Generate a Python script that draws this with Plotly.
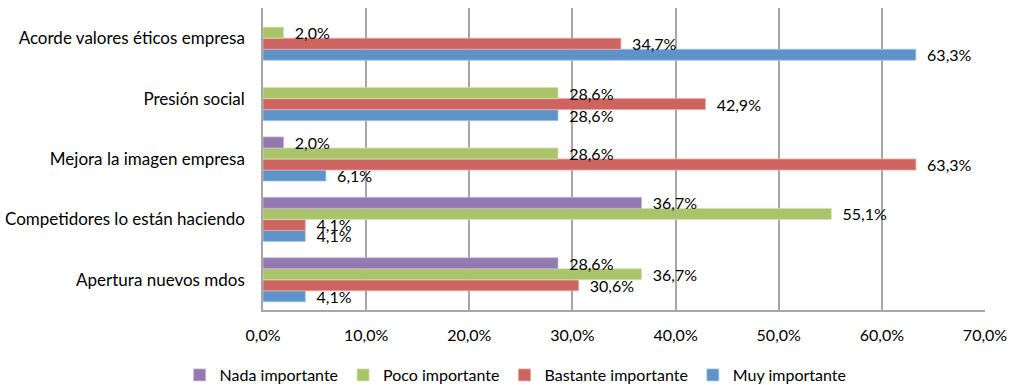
import plotly.graph_objects as go

categories = [
    "Apertura nuevos mdos",
    "Competidores lo están haciendo",
    "Mejora la imagen empresa",
    "Presión social",
    "Acorde valores éticos empresa",
]
muy = [4.1, 4.1, 6.1, 28.6, 63.3]
bastante = [30.6, 4.1, 63.3, 42.9, 34.7]
poco = [36.7, 55.1, 28.6, 28.6, 2.0]
nada = [28.6, 36.7, 2.0, 0.0, 0.0]

series = [
    ("Muy importante", muy, "#5D93C9", "#a9c6e6"),
    ("Bastante importante", bastante, "#CE6460", "#e8aaa6"),
    ("Poco importante", poco, "#A9C46B", "#d3e2b4"),
    ("Nada importante", nada, "#9279B0", "#c6b8d8"),
]

FONT = "Lato"
NB = "\u00a0"

def lab(v):
    return (NB * 2 + f"{v:.1f}%".replace(".", ",")) if v > 0 else ""

fig = go.Figure()
for name, vals, col, edge in series:
    fig.add_trace(go.Bar(
        y=categories, x=[v if v > 0 else None for v in vals],
        name=name, orientation="h",
        marker=dict(color=col, line=dict(color=edge, width=0.8)),
        text=[lab(v) for v in vals], textposition="outside",
        constraintext="none", cliponaxis=False,
        textfont=dict(family=FONT, size=16, color="black"),
        hoverinfo="skip",
    ))

fig.update_layout(
    width=1015, height=385,
    margin=dict(l=263, r=30, t=8, b=75, autoexpand=False),
    barmode="group", bargap=0.27, bargroupgap=0,
    plot_bgcolor="white", paper_bgcolor="white",
    separators=",.",
    font=dict(family=FONT, size=16, color="black"),
    legend=dict(orientation="h", xref="container", yref="container",
                x=0.508, xanchor="center", y=0.026, yanchor="middle",
                traceorder="reversed", font=dict(family=FONT, size=16),
                itemclick=False),
    xaxis=dict(range=[0, 70], dtick=10, tickformat=".1f", ticksuffix="%",
               showgrid=True, gridcolor="#a6a6a6", gridwidth=1.5,
               showline=True, linecolor="#a6a6a6", linewidth=1.5,
               zeroline=False, ticks="", ticklabelstandoff=10,
               tickfont=dict(family=FONT, size=16)),
    yaxis=dict(showline=True, linecolor="#a6a6a6", linewidth=1.5,
               ticks="", ticklabelstandoff=13, showgrid=False,
               tickfont=dict(family=FONT, size=17)),
)

fig.write_html("out.html")
